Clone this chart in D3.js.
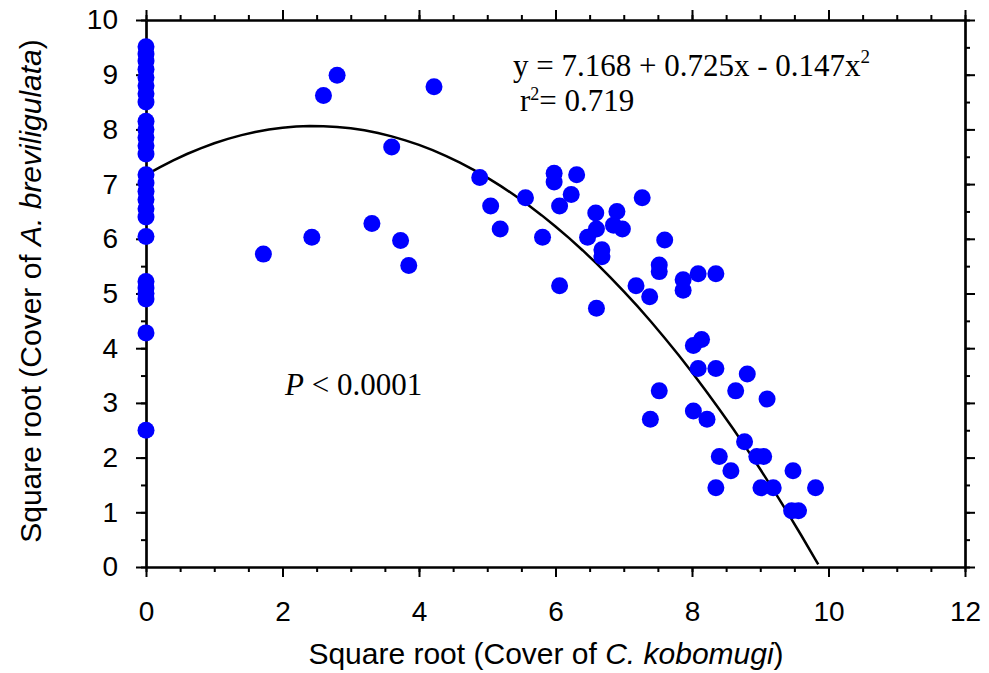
<!DOCTYPE html>
<html>
<head>
<meta charset="utf-8">
<script src="https://cdn.jsdelivr.net/npm/d3@7"></script>
<style>
  body { margin: 0; background: #fff; }
  svg { display: block; }
</style>
</head>
<body>
<svg width="989" height="673"></svg>
<script>
// Sqrt cover of C. kobomugi (x) vs sqrt cover of A. breviligulata (y)
const xVals = [
  0, 0, 0, 0, 0, 0, 0, 0, 0, 0, 0, 0, 0,
  0, 0, 0, 0, 0, 0, 0,
  0, 0, 0, 0, 0, 0,
  1.72, 2.43, 2.60, 2.80, 3.31, 3.60, 3.73, 3.85, 4.22,
  4.89, 5.05, 5.19, 5.56, 5.81, 5.98, 5.98, 6.06, 6.06, 6.23, 6.31,
  6.47, 6.59, 6.60, 6.60, 6.68, 6.68, 6.85, 6.90, 6.98, 7.18, 7.27, 7.38,
  7.39, 7.52, 7.52, 7.52, 7.60, 7.87, 7.87, 8.02, 8.02, 8.09, 8.09, 8.14,
  8.22, 8.35, 8.35, 8.35, 8.40, 8.57, 8.64, 8.77, 8.81, 8.95, 9.01, 9.05,
  9.10, 9.19, 9.46, 9.48, 9.56, 9.81
];
const yVals = [
  9.51, 9.38, 9.25, 9.10, 8.95, 8.80, 8.65, 8.50, 8.15, 8.00, 7.85, 7.70, 7.55,
  7.17, 7.02, 6.87, 6.72, 6.55, 6.40, 6.04,
  5.22, 5.10, 5.00, 4.90, 4.28, 2.50,
  5.72, 6.03, 8.62, 8.99, 6.28, 7.68, 5.97, 5.51, 8.78,
  7.12, 6.60, 6.18, 6.75, 6.03, 7.20, 7.04, 6.60, 5.14, 6.81, 7.17,
  6.03, 6.47, 6.18, 4.73, 5.80, 5.67, 6.25, 6.50, 6.18, 5.14, 6.75, 4.94,
  2.70, 5.52, 5.40, 3.22, 5.98, 5.25, 5.06, 4.05, 2.85, 5.36, 3.63, 4.16,
  2.70, 5.36, 3.63, 1.45, 2.02, 1.76, 3.22, 2.29, 3.53, 2.02, 1.45, 2.02,
  3.07, 1.45, 1.03, 1.76, 1.03, 1.45
];
const data = xVals.map((x, i) => ({ x, y: yVals[i] }));

// quadratic fit shown on the chart
const coef = [7.168, 0.725, -0.147];
const fitEnd = 9.85;

const xTicks = [0, 2, 4, 6, 8, 10, 12];
const yTicks = [0, 1, 2, 3, 4, 5, 6, 7, 8, 9, 10];

const svg = d3.select("svg");
const margin = { left: 146, right: 965, top: 20, bottom: 567 };

const x = d3.scaleLinear().domain([0, 12]).range([margin.left, margin.right]);
const y = d3.scaleLinear().domain([0, 10]).range([margin.bottom, margin.top]);

const minorX = d3.range(0, 12.01, 0.5);
const minorY = d3.range(0, 10.01, 0.5);

const sans = "Liberation Sans, Arial, sans-serif";
const serif = "Liberation Serif, Times New Roman, serif";

// axes: bottom/left with labels, top/right ticks only, all ticks outside
function styleAxis(sel) {
  sel.select(".domain").attr("stroke-width", 2.2);
  sel.selectAll(".tick line").attr("stroke-width", 2);
  sel.selectAll(".tick text")
    .attr("font-family", sans)
    .attr("font-size", "28px")
    .attr("fill", "#000");
}

function addAxis(axisFn, scale, ticks, minor, transform, labels, pad) {
  svg.append("g")
    .attr("transform", transform)
    .call(axisFn(scale).tickValues(minor).tickSize(5).tickFormat("").tickSizeOuter(0))
    .call(styleAxis);
  return svg.append("g")
    .attr("transform", transform)
    .call(axisFn(scale).tickValues(ticks).tickSize(10).tickSizeOuter(0)
      .tickPadding(pad).tickFormat(labels ? d3.format("d") : ""))
    .call(styleAxis);
}

addAxis(d3.axisBottom, x, xTicks, minorX, `translate(0,${margin.bottom})`, true, 24);
addAxis(d3.axisTop, x, xTicks, minorX, `translate(0,${margin.top})`, false, 3);
addAxis(d3.axisLeft, y, yTicks, minorY, `translate(${margin.left},0)`, true, 18);
addAxis(d3.axisRight, y, yTicks, minorY, `translate(${margin.right},0)`, false, 3);

// fit curve
const curvePts = d3.range(0, fitEnd, 0.2).concat([fitEnd])
  .map(v => [v, coef[0] + coef[1] * v + coef[2] * v * v]);

svg.append("path")
  .datum(curvePts)
  .attr("fill", "none")
  .attr("stroke", "#000")
  .attr("stroke-width", 2.5)
  .attr("d", d3.line().x(d => x(d[0])).y(d => y(d[1])));

// points
svg.append("g")
  .selectAll("circle")
  .data(data)
  .join("circle")
  .attr("cx", d => x(d.x))
  .attr("cy", d => y(d.y))
  .attr("r", 8.5)
  .attr("fill", "#0000ff");

// axis titles
const xt = svg.append("text")
  .attr("x", 546)
  .attr("y", 664)
  .attr("text-anchor", "middle")
  .attr("font-family", sans)
  .attr("font-size", "30px");
xt.append("tspan").text("Square root (Cover of ");
xt.append("tspan").attr("font-style", "italic").text("C. kobomugi");
xt.append("tspan").text(")");

const yt = svg.append("text")
  .attr("transform", "translate(41,291) rotate(-90)")
  .attr("text-anchor", "middle")
  .attr("font-family", sans)
  .attr("font-size", "30px");
yt.append("tspan").text("Square root (Cover of ");
yt.append("tspan").attr("font-style", "italic").text("A. breviligulata");
yt.append("tspan").text(")");

// equation
const eq = svg.append("text")
  .attr("x", 513).attr("y", 76)
  .attr("font-family", serif)
  .attr("font-size", "31px");
eq.append("tspan").text("y = 7.168 + 0.725x - 0.147x");
eq.append("tspan").attr("dy", -13).attr("font-size", "19px").text("2");

const r2 = svg.append("text")
  .attr("x", 520).attr("y", 111)
  .attr("font-family", serif)
  .attr("font-size", "31px");
r2.append("tspan").text("r");
r2.append("tspan").attr("dy", -11).attr("font-size", "18px").text("2");
r2.append("tspan").attr("dy", 11).text("= 0.719");

const pt = svg.append("text")
  .attr("x", 285).attr("y", 395)
  .attr("font-family", serif)
  .attr("font-size", "31px");
pt.append("tspan").attr("font-style", "italic").text("P");
pt.append("tspan").text(" < 0.0001");
</script>
</body>
</html>
